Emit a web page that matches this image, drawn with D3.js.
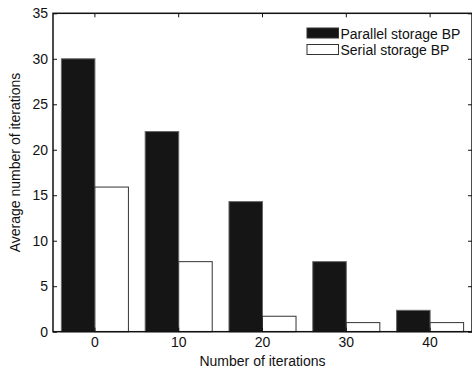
<!DOCTYPE html>
<html>
<head>
<meta charset="utf-8">
<script src="https://cdn.jsdelivr.net/npm/d3@7"></script>
<style>
  body { margin: 0; background: #fff; }
  svg { display: block; font-family: "Liberation Sans", Arial, Helvetica, sans-serif; }
</style>
</head>
<body>
<svg id="chart" width="472" height="371"></svg>
<script>
// data
const categories = ["0", "10", "20", "30", "40"];
const seriesNames = ["Parallel storage BP", "Serial storage BP"];
const parallelValues = [30, 22, 14.3, 7.7, 2.35];
const serialValues = [15.9, 7.7, 1.7, 1.0, 1.0];
const yTicks = [0, 5, 10, 15, 20, 25, 30, 35];

const svg = d3.select("#chart");
const plotLeft = 53, plotRight = 472, plotTop = 13.3, plotBottom = 331.7;

const x = d3.scaleBand().domain(categories).range([plotLeft, plotRight]).padding(0);
const xSub = d3.scaleBand().domain(seriesNames)
  .range([x.bandwidth() * 0.1, x.bandwidth() * 0.9]).padding(0);
const y = d3.scaleLinear().domain([0, 35]).range([plotBottom, plotTop]);

const fills = { "Parallel storage BP": "#151515", "Serial storage BP": "#ffffff" };

const rows = categories.map((c, i) => ({
  cat: c,
  vals: [
    { name: seriesNames[0], v: parallelValues[i] },
    { name: seriesNames[1], v: serialValues[i] }
  ]
}));

// bars
svg.append("g").selectAll("g")
  .data(rows)
  .enter().append("g")
    .attr("transform", d => `translate(${x(d.cat)},0)`)
  .selectAll("rect")
  .data(d => d.vals)
  .enter().append("rect")
    .attr("x", d => xSub(d.name))
    .attr("y", d => y(d.v))
    .attr("width", xSub.bandwidth())
    .attr("height", d => y(0) - y(d.v))
    .attr("fill", d => fills[d.name])
    .attr("stroke", d => d.name === seriesNames[0] ? "#666" : "#333")
    .attr("stroke-width", 1);

// axes (inward ticks, box)
const axisFont = g => g.selectAll("text")
  .attr("font-size", 14)
  .attr("font-family", "Liberation Sans, Arial, sans-serif")
  .attr("fill", "#111");

svg.append("g")
  .attr("transform", `translate(0,${plotBottom})`)
  .call(d3.axisBottom(x).tickSizeInner(-4).tickSizeOuter(0).tickPadding(5))
  .call(axisFont)
  .call(g => g.select(".domain").remove());

svg.append("g")
  .attr("transform", `translate(0,${plotTop})`)
  .call(d3.axisTop(x).tickSizeInner(-4).tickSizeOuter(0).tickFormat(""))
  .call(g => g.select(".domain").remove());

svg.append("g")
  .attr("transform", `translate(${plotLeft},0)`)
  .call(d3.axisLeft(y).tickValues(yTicks).tickSizeInner(-4).tickSizeOuter(0).tickPadding(5))
  .call(axisFont)
  .call(g => g.select(".domain").remove());

svg.append("g")
  .attr("transform", `translate(${plotRight},0)`)
  .call(d3.axisRight(y).tickValues(yTicks).tickSizeInner(-4).tickSizeOuter(0).tickFormat(""))
  .call(g => g.select(".domain").remove());

svg.selectAll(".tick line").attr("stroke", "#111");

svg.append("rect")
  .attr("x", plotLeft).attr("y", plotTop)
  .attr("width", plotRight - plotLeft).attr("height", plotBottom - plotTop)
  .attr("fill", "none")
  .attr("stroke", "#111")
  .attr("stroke-width", 1.5);

// axis titles
svg.append("text")
  .attr("x", (plotLeft + plotRight) / 2)
  .attr("y", 366)
  .attr("text-anchor", "middle")
  .attr("font-size", 14)
  .attr("fill", "#111")
  .text("Number of iterations");

svg.append("text")
  .attr("transform", `translate(19.5,${(plotTop + plotBottom) / 2 - 10}) rotate(-90)`)
  .attr("text-anchor", "middle")
  .attr("font-size", 14)
  .attr("fill", "#111")
  .text("Average number of iterations");

// legend
const legend = svg.append("g").attr("transform", "translate(307,28)");
const items = legend.selectAll("g")
  .data(seriesNames)
  .enter().append("g")
    .attr("transform", (d, i) => `translate(0,${i * 16.5})`);
items.append("rect")
  .attr("width", 31.5).attr("height", 10)
  .attr("fill", d => fills[d])
  .attr("stroke", "#333")
  .attr("stroke-width", 1);
items.append("text")
  .attr("x", 33.5).attr("y", 10.5)
  .attr("font-size", 14)
  .attr("fill", "#111")
  .text(d => d);
</script>
</body>
</html>
